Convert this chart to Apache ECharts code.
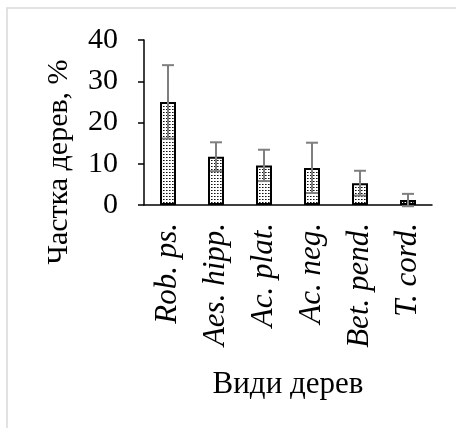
<!DOCTYPE html>
<html>
<head>
<meta charset="utf-8">
<script src="https://cdn.jsdelivr.net/npm/echarts@6/dist/echarts.min.js"></script>
<style>
  html, body { margin: 0; padding: 0; background: #fff; }
  #main { width: 456px; height: 428px; }
</style>
</head>
<body>
<div id="main"></div>
<script>
var categories = ['Rob. ps.', 'Aes. hipp.', 'Ac. plat.', 'Ac. neg.', 'Bet. pend.', 'T. cord.'];
var shareValues = [25.0, 11.7, 9.6, 9.0, 5.3, 1.2];
var errorValues = [8.9, 3.5, 3.8, 6.1, 3.0, 1.5];
var yTicks = [0, 10, 20, 30, 40];

var serif = '"Liberation Serif", "DejaVu Serif", serif';

// dotted fill like the office pattern
var pat = document.createElement('canvas');
pat.width = 3;
pat.height = 3;
var pctx = pat.getContext('2d');
pctx.fillStyle = '#fff';
pctx.fillRect(0, 0, 3, 3);
pctx.fillStyle = '#111';
pctx.fillRect(1, 1, 1, 1);
pctx.fillStyle = '#777';
pctx.fillRect(2, 1, 1, 1);

var errData = shareValues.map(function (v, i) {
  return [i, v - errorValues[i], v + errorValues[i]];
});

var myChart = echarts.init(document.getElementById('main'));
var option = {
  backgroundColor: '#fff',
  animation: false,
  grid: {
    left: 144,
    right: 24,
    top: 40,
    bottom: 223
  },
  graphic: [{
    type: 'rect',
    shape: { x: 7, y: 8, width: 470, height: 440 },
    style: { fill: 'none', stroke: '#d9d9d9', lineWidth: 1.5 }
  }, {
    type: 'text',
    x: 59,
    y: 162,
    rotation: Math.PI / 2,
    style: {
      text: 'Частка дерев, %',
      font: '30px ' + serif,
      fill: '#000',
      textAlign: 'center',
      textVerticalAlign: 'middle'
    }
  }],
  xAxis: {
    type: 'category',
    data: categories,
    name: 'Види дерев',
    nameLocation: 'middle',
    nameGap: 164,
    nameTextStyle: { fontFamily: serif, fontSize: 31, color: '#000' },
    axisLine: { lineStyle: { color: '#000', width: 1.5 } },
    axisTick: { show: false },
    axisLabel: {
      rotate: 90,
      margin: 18,
      fontFamily: serif,
      fontSize: 31,
      fontStyle: 'italic',
      color: '#000'
    }
  },
  yAxis: {
    type: 'value',
    min: yTicks[0],
    max: yTicks[yTicks.length - 1],
    interval: 10,
    axisLine: { show: true, lineStyle: { color: '#000', width: 1.5 } },
    axisTick: { show: true, length: 6, lineStyle: { color: '#000', width: 1.5 } },
    splitLine: { show: false },
    axisLabel: {
      margin: 26,
      fontFamily: serif,
      fontSize: 30,
      color: '#000'
    }
  },
  series: [{
    type: 'bar',
    data: shareValues,
    barWidth: 16,
    itemStyle: {
      color: { image: pat, repeat: 'repeat' },
      borderColor: '#000',
      borderWidth: 2
    }
  }, {
    type: 'custom',
    data: errData,
    z: 5,
    renderItem: function (params, api) {
      var lo = api.coord([api.value(0), api.value(1)]);
      var hi = api.coord([api.value(0), api.value(2)]);
      var cap = 6;
      var st = { stroke: '#7f7f7f', lineWidth: 2 };
      return {
        type: 'group',
        children: [{
          type: 'line',
          shape: { x1: hi[0], y1: hi[1], x2: lo[0], y2: lo[1] },
          style: st
        }, {
          type: 'line',
          shape: { x1: hi[0] - cap, y1: hi[1], x2: hi[0] + cap, y2: hi[1] },
          style: st
        }, {
          type: 'line',
          shape: { x1: lo[0] - cap, y1: lo[1], x2: lo[0] + cap, y2: lo[1] },
          style: st
        }]
      };
    }
  }]
};
myChart.setOption(option);
</script>
</body>
</html>
